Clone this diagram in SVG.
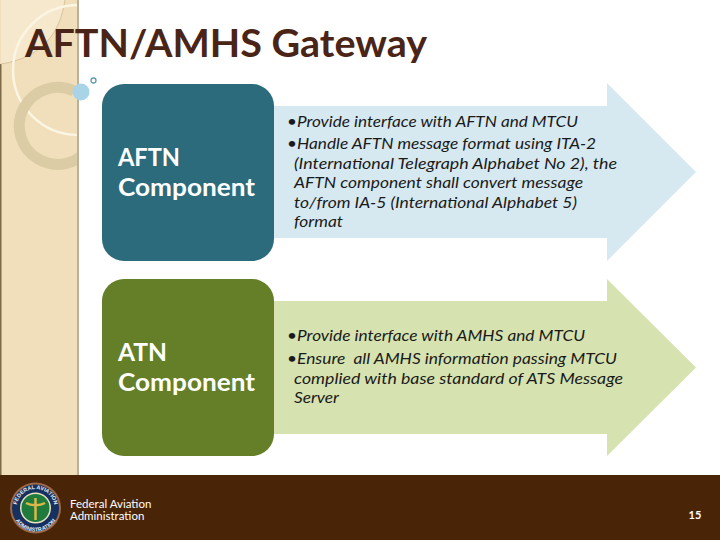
<svg xmlns="http://www.w3.org/2000/svg" width="720" height="540" viewBox="0 0 720 540">
<style>
.h{font-family:"Lato","Open Sans","Liberation Sans",sans-serif;font-weight:700;fill:#fff;font-size:25px}
.b{font-family:"Lato","Open Sans","Liberation Sans",sans-serif;font-style:italic;font-size:16px;fill:#1a1a1a}
.f{font-family:"Lato","Liberation Sans",sans-serif;font-size:11.5px;fill:#fff}
.s{font-family:"Liberation Sans",sans-serif;font-size:5.5px;font-weight:700;fill:#e8edf2}
</style>
<defs>
<clipPath id="panel"><rect x="0" y="0" width="78" height="476"/></clipPath>
<path id="sealTop" d="M16.500 508A19 19 0 0 1 54.500 508"/>
<path id="sealBot" d="M12 508A23.500 23.500 0 0 0 59 508"/>
</defs>
<rect width="720" height="540" fill="#fff"/>
<g id="sidebar">
<rect x="0" y="0" width="78" height="476" fill="#f0dfba"/>
<path d="M1 0H65C60 35 40 58 1 64Z" fill="#f5e8cd"/>
<path d="M0.750 64V476" stroke="#7d6a48" stroke-width="1.500"/>
<path d="M65 0C60 35 40 58 1 64" stroke="#d9c49b" fill="none"/>
<g clip-path="url(#panel)">
<circle cx="78" cy="70" r="65" fill="none" stroke="#fbf5e3" stroke-width="2.500"/>
<path d="M74 91A38.500 38.500 0 1 0 90 147" fill="none" stroke="#dccca6" stroke-width="11"/>
</g>
<rect x="77" y="0" width="2" height="476" fill="#bdb09a"/>
<circle cx="81" cy="92" r="8.500" fill="#a9d4e8"/>
<circle cx="93.500" cy="80.500" r="2.500" fill="#fff" stroke="#5f9cb0" stroke-width="1.300"/>
</g>
<g id="title"><text x="25" y="57" font-family="Lato,'Open Sans','Liberation Sans',sans-serif" font-weight="700" font-size="38" fill="#4a2416" textLength="402" lengthAdjust="spacingAndGlyphs">AFTN/AMHS Gateway</text></g>
<g id="aftn-arrow">
<path d="M270 106H607V83L696 172L607 261V238H270Z" fill="#d7e9f0"/>
<g class="b">
<text x="287" y="127" textLength="291" lengthAdjust="spacingAndGlyphs">•Provide interface with AFTN and MTCU</text>
<text x="287" y="149" textLength="309" lengthAdjust="spacingAndGlyphs">•Handle AFTN message format using ITA-2</text>
<text x="294" y="169" textLength="323" lengthAdjust="spacingAndGlyphs">(International Telegraph Alphabet No 2), the</text>
<text x="294" y="188" textLength="289" lengthAdjust="spacingAndGlyphs">AFTN component shall convert message</text>
<text x="294" y="208" textLength="283" lengthAdjust="spacingAndGlyphs">to/from IA-5 (International Alphabet 5)</text>
<text x="294" y="227" textLength="49" lengthAdjust="spacingAndGlyphs">format</text>
</g>
</g>
<g id="aftn-component">
<rect x="102" y="84" width="172" height="177" rx="22" fill="#2b6b7c"/>
<text class="h" x="118" y="166" textLength="62" lengthAdjust="spacingAndGlyphs">AFTN</text>
<text class="h" x="118" y="196" textLength="137" lengthAdjust="spacingAndGlyphs">Component</text>
</g>
<g id="atn-arrow">
<path d="M270 301H607V279L696 367.500L607 456V434H270Z" fill="#d6e3b0"/>
<g class="b">
<text x="287" y="341" textLength="298" lengthAdjust="spacingAndGlyphs">•Provide interface with AMHS and MTCU</text>
<text x="287" y="364" textLength="330" lengthAdjust="spacingAndGlyphs" xml:space="preserve">•Ensure  all AMHS information passing MTCU</text>
<text x="294" y="384" textLength="329" lengthAdjust="spacingAndGlyphs">complied with base standard of ATS Message</text>
<text x="294" y="403" textLength="45" lengthAdjust="spacingAndGlyphs">Server</text>
</g>
</g>
<g id="atn-component">
<rect x="102" y="279" width="172" height="177" rx="22" fill="#647f27"/>
<text class="h" x="118" y="361" textLength="49" lengthAdjust="spacingAndGlyphs">ATN</text>
<text class="h" x="118" y="391" textLength="137" lengthAdjust="spacingAndGlyphs">Component</text>
</g>
<g id="footer">
<rect x="0" y="475" width="720" height="65" fill="#4a2406"/>
<circle cx="35.500" cy="508" r="25.500" fill="#9a6a4a"/>
<circle cx="35.500" cy="508" r="23.500" fill="#16305f"/>
<circle cx="35.500" cy="508" r="15.500" fill="#e8e2c0"/>
<circle cx="35.500" cy="508" r="14" fill="#1f7a3c"/>
<path d="M35.500 498V520M26 503C31 506 40 506 45 503" stroke="#d9b94a" stroke-width="2.500" fill="none"/>
<text class="s"><textPath href="#sealTop" startOffset="50%" text-anchor="middle">FEDERAL AVIATION</textPath></text>
<text class="s"><textPath href="#sealBot" startOffset="50%" text-anchor="middle">ADMINISTRATION</textPath></text>
<text class="f"><tspan x="70" y="508">Federal Aviation</tspan><tspan x="70" y="520">Administration</tspan></text>
<text x="695" y="519" text-anchor="middle" font-family="Lato,'Liberation Sans',sans-serif" font-weight="700" font-size="11" fill="#fff">15</text>
</g>
</svg>
